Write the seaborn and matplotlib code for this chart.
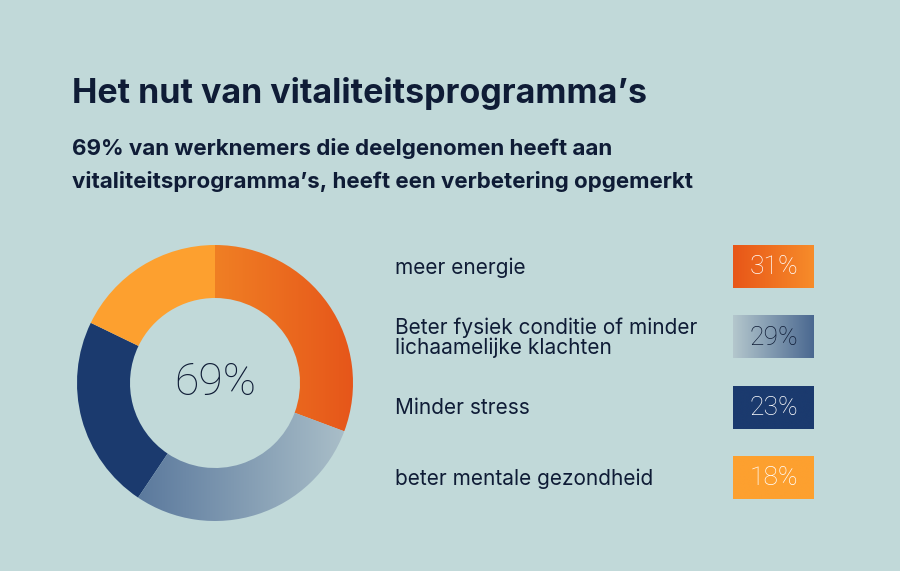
import numpy as np
import seaborn as sns
import matplotlib.pyplot as plt

sns.set_theme(style='white')
plt.rcParams['font.family'] = ['Inter', 'DejaVu Sans']

title = 'Het nut van vitaliteitsprogramma’s'
subtitle = ['69% van werknemers die deelgenomen heeft aan',
            'vitaliteitsprogramma’s, heeft een verbetering opgemerkt']
center_label = '69%'

categories = ['meer energie',
              'Beter fysiek conditie of minder\nlichaamelijke klachten',
              'Minder stress',
              'beter mentale gezondheid']
values = [31, 29, 23, 18]

bg = '#c1d9d9'
ink = '#0f1c36'
wedge_colors = [('#f07f24', '#e6561a'), ('#5b799d', '#a9bec8'),
                ('#1b3a6e', '#1b3a6e'), ('#fda02f', '#fda02f')]
box_colors = [('#e85618', '#f78c2a'), ('#b4c7cd', '#4a6890'),
              ('#1b3a6e', '#1b3a6e'), ('#fda02f', '#fda02f')]
box_text = ['white', ink, 'white', 'white']

W, H = 900, 571
fig = plt.figure(figsize=(W / 100, H / 100), dpi=100, facecolor=bg)

# page axes in pixel coordinates
page = fig.add_axes([0, 0, 1, 1])
page.axis('off')


def gradient(ax, extent, c_left, c_right, clip=None, zorder=2):
    cmap = sns.blend_palette([c_left, c_right], as_cmap=True)
    im = ax.imshow(np.linspace(0, 1, 256).reshape(1, -1), cmap=cmap,
                   extent=extent, aspect='auto', zorder=zorder,
                   interpolation='bilinear')
    if clip is not None:
        im.set_clip_path(clip)
    return im


page.text(72, 103, title, fontsize=24.5, fontweight='bold', color=ink,
          va='baseline', ha='left')
page.text(72, 155, subtitle[0], fontsize=16.1, fontweight='bold',
          color=ink, va='baseline')
page.text(72, 188, subtitle[1], fontsize=16.1, fontweight='bold',
          color=ink, va='baseline')

# legend rows
row0, step = 266.5, 70.3
bx0, bw, bh = 733, 81, 43
for i, (cat, val) in enumerate(zip(categories, values)):
    yc = row0 + i * step
    page.text(395, yc + 1, cat, fontsize=15, color=ink, va='center', ha='left',
              linespacing=1.0)
    cl, cr = box_colors[i]
    gradient(page, [bx0, bx0 + bw, yc + bh / 2, yc - bh / 2], cl, cr)
    page.text(bx0 + bw / 2, yc + 1, f'{val}%', fontsize=19, color=box_text[i],
              ha='center', va='center', fontweight='light', family='Roboto',
              zorder=5)
page.set_xlim(0, W)
page.set_ylim(H, 0)

# donut
cx, cy, r = 215, 383, 138
pad = 140
ax = fig.add_axes([(cx - pad) / W, (H - cy - pad) / H, 2 * pad / W, 2 * pad / H])
ax.set_facecolor('none')
wedges, _ = ax.pie(values, startangle=90, counterclock=False, radius=1,
                   wedgeprops=dict(width=(138 - 85) / 138, linewidth=0))
for w, (cl, cr) in zip(wedges, wedge_colors):
    ext = w.get_path().get_extents()
    w.set_facecolor(cl)
    if cl != cr:
        w.set_facecolor('none')
        gradient(ax, [ext.x0, ext.x1, ext.y0, ext.y1], cl, cr, clip=w)
lim = pad / r
ax.set_xlim(-lim, lim)
ax.set_ylim(-lim, lim)
ax.set_aspect('equal')
ax.axis('off')
ax.text(0, 0, center_label, fontsize=32, color=ink, ha='center', va='center',
        fontweight='light', family='Roboto')

fig.savefig('out.png', dpi=100, facecolor=bg)
